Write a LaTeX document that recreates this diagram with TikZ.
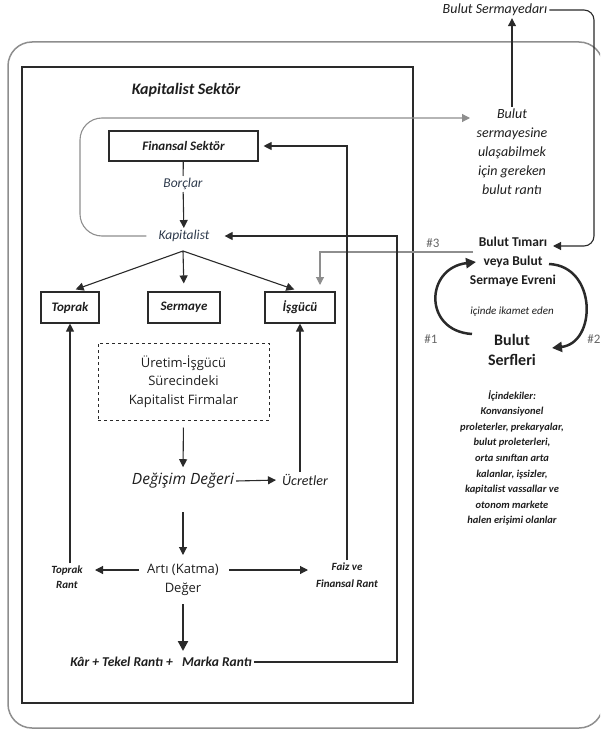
\documentclass[tikz,border=0pt]{standalone}
\usepackage{fontspec}
\setmainfont{Carlito}
\newfontfamily\osans{Open Sans}
\usetikzlibrary{arrows.meta}
\definecolor{txt}{HTML}{1E1E1E}
\definecolor{lnc}{HTML}{2A2A2A}
\definecolor{gry}{HTML}{8E8E8E}
\definecolor{blu}{HTML}{2E3A4C}
\begin{document}
\begin{tikzpicture}[x=1pt,y=-1pt,
  every node/.style={inner sep=2pt, text=txt},
  arr/.style={draw=lnc, line width=1.1pt, -{Triangle[length=8pt,width=8pt]}},
  ln/.style={draw=lnc, line width=1.1pt},
  gl/.style={draw=gry, line width=1.1pt},
  garr/.style={draw=gry, line width=1.1pt, -{Triangle[length=8pt,width=8pt]}},
  thk/.style={draw=lnc, line width=2.2pt, -{Triangle[length=10pt,width=10pt]}},
  bx/.style={draw=lnc, line width=1.1pt, minimum height=30pt, inner sep=0pt,
    font=\bfseries\itshape\fontsize{13}{15}\selectfont},
  it/.style={font=\itshape\fontsize{13.5}{15}\selectfont},
]
\useasboundingbox (0,0) rectangle (600,730);
\clip (0,0) rectangle (600,730);
% frames
\draw[gry, line width=1.5pt, rounded corners=24pt] (8,42) rectangle (603,728);
\draw[lnc, line width=1.5pt] (22,67) rectangle (413,703);

% left sector
\node[font=\bfseries\itshape\fontsize{16}{18}\selectfont] (ks) at (186,90) {Kapitalist Sektör};
\node[bx, minimum width=149pt] (fs) at (183.5,146) {Finansal Sektör};
\node[it, text=blu] (borc) at (183,184) {Borçlar};
\node[it, text=blu] (kap) at (184,236) {Kapitalist};
\coordinate (kb) at (183,251);
\node[bx, minimum width=58pt, minimum height=31pt] (tp) at (70,307.5) {Toprak};
\node[bx, minimum width=72pt, minimum height=31pt] (sm) at (184,307.5) {Sermaye};
\node[bx, minimum width=70pt, minimum height=31pt] (ig) at (300,307.5) {İşgücü};
\node[draw=lnc, dashed, line width=1pt, minimum width=171pt, minimum height=77pt, align=center,
  font=\osans\fontsize{13}{18.5}\selectfont] (fir) at (183.5,381.5) {Üretim-İşgücü\\Sürecindeki\\Kapitalist Firmalar};
\node[font=\osans\itshape\fontsize{15.5}{18}\selectfont] (dd) at (183,481) {Değişim Değeri};
\node[font=\itshape\fontsize{14}{16}\selectfont] (uc) at (305,480) {Ücretler};
\node[align=center, font=\osans\fontsize{13}{19}\selectfont] (ar) at (183,580) {Artı (Katma)\\Değer};
\node[align=center, font=\bfseries\itshape\fontsize{11}{15}\selectfont] (tr) at (67,577) {Toprak\\Rant};
\node[align=center, font=\bfseries\itshape\fontsize{11}{17}\selectfont] (fz) at (347,575) {Faiz ve\\Finansal Rant};
\node[font=\bfseries\itshape\fontsize{13.5}{16}\selectfont] (kar) at (161,662) {Kâr + Tekel Rantı + \ \ Marka Rantı};

% right side
\node[font=\itshape\fontsize{14}{16}\selectfont] (bsd) at (495,10) {Bulut Sermayedarı};
\node[align=center, font=\itshape\fontsize{14}{19}\selectfont] (bsr) at (512,152)
  {Bulut\\sermayesine\\ulaşabilmek\\için gereken\\bulut rantı};
\node[align=center, font=\bfseries\fontsize{13.5}{19.3}\selectfont] (bt) at (513,262)
  {Bulut Tımarı\\veya Bulut\\Sermaye Evreni};
\node[font=\itshape\fontsize{11}{13}\selectfont] (ik) at (512,312) {içinde ikamet eden};
\node[align=center, font=\bfseries\fontsize{16}{20}\selectfont] (sf) at (512,350) {Bulut\\Serfleri};
\node[align=center, font=\bfseries\itshape\fontsize{10.5}{15.6}\selectfont] (ic) at (512,458)
  {İçindekiler:\\Konvansiyonel\\proleterler, prekaryalar,\\bulut proleterleri,\\orta sınıftan arta\\kalanlar, işsizler,\\kapitalist vassallar ve\\otonom markete\\halen erişimi olanlar};
\node[font=\fontsize{13}{15}\selectfont, text=gray!80!black] (h3) at (433,243) {\#3};
\node[font=\fontsize{13}{15}\selectfont, text=gray!80!black] (h1) at (431,339) {\#1};
\node[font=\fontsize{13}{15}\selectfont, text=gray!80!black] (h2) at (594,339) {\#2};

% connectors left
\draw[ln] (fs) -- (borc);
\draw[arr] (borc) -- (kap);
\draw[arr, shorten >=6pt] (kb) -- (tp.north);
\draw[arr, shorten >=8pt] (kb) -- (sm.north);
\draw[arr, shorten >=6pt] (kb) -- (ig.north);
\draw[garr, rounded corners=22pt, shorten <=10pt] (kap.west) -- (80,236) -- (80,118) -- (470,118);
\coordinate (g3) at (473,252);
\coordinate (g3b) at (320,252);
\coordinate (g3c) at (320,285);
\draw[garr] (g3) -- (g3b) -- (g3c);
\coordinate (kr) at (397,662);
\coordinate (kr2) at (397,236);
\draw[arr, shorten >=13pt] (kar.east) -- (kr) -- (kr2) -- (kap.east);
\coordinate (fzt) at (347,146);
\draw[arr, shorten >=5pt] (fz.north) -- (fzt) -- (fs.east);
\draw[arr] (tp.south |- tr.north) -- (tp.south);
\draw[arr] (ig.south |- uc.north) -- (ig.south);
\draw[arr, shorten <=7pt, shorten >=4pt] (fir.south) -- (dd.north);
\draw[arr, shorten >=4pt] (dd.east) -- (uc.west);
\coordinate (d1) at (183,512);
\coordinate (d2) at (183,555);
\draw[arr] (d1) -- (d2);
\coordinate (a1) at (139,570);
\coordinate (a2) at (95,570);
\coordinate (a3) at (229,570);
\coordinate (a4) at (308,570);
\draw[arr] (a1) -- (a2);
\draw[arr] (a3) -- (a4);
\coordinate (t1) at (183,604);
\coordinate (t2) at (183,651);
\draw[thk] (t1) -- (t2);

% connectors right
\draw[arr] (bsr.north) -- (bsr.north |- bsd.south);
\coordinate (c1) at (594,10);
\coordinate (c2) at (594,246);
\coordinate (c3) at (553,246);
\draw[arr, rounded corners=10pt] (bsd.east) -- (c1) -- (c2) -- (c3);
\coordinate (l0) at (472,334);
\coordinate (l1) at (476,262);
\draw[thk, line width=2.5pt] (l0) .. controls (423,331) and (425,268) .. (l1);
\coordinate (r0) at (549,264);
\coordinate (r1) at (552,348);
\draw[thk, line width=2.5pt] (r0) .. controls (597,266) and (597,343) .. (r1);
\end{tikzpicture}
\end{document}
